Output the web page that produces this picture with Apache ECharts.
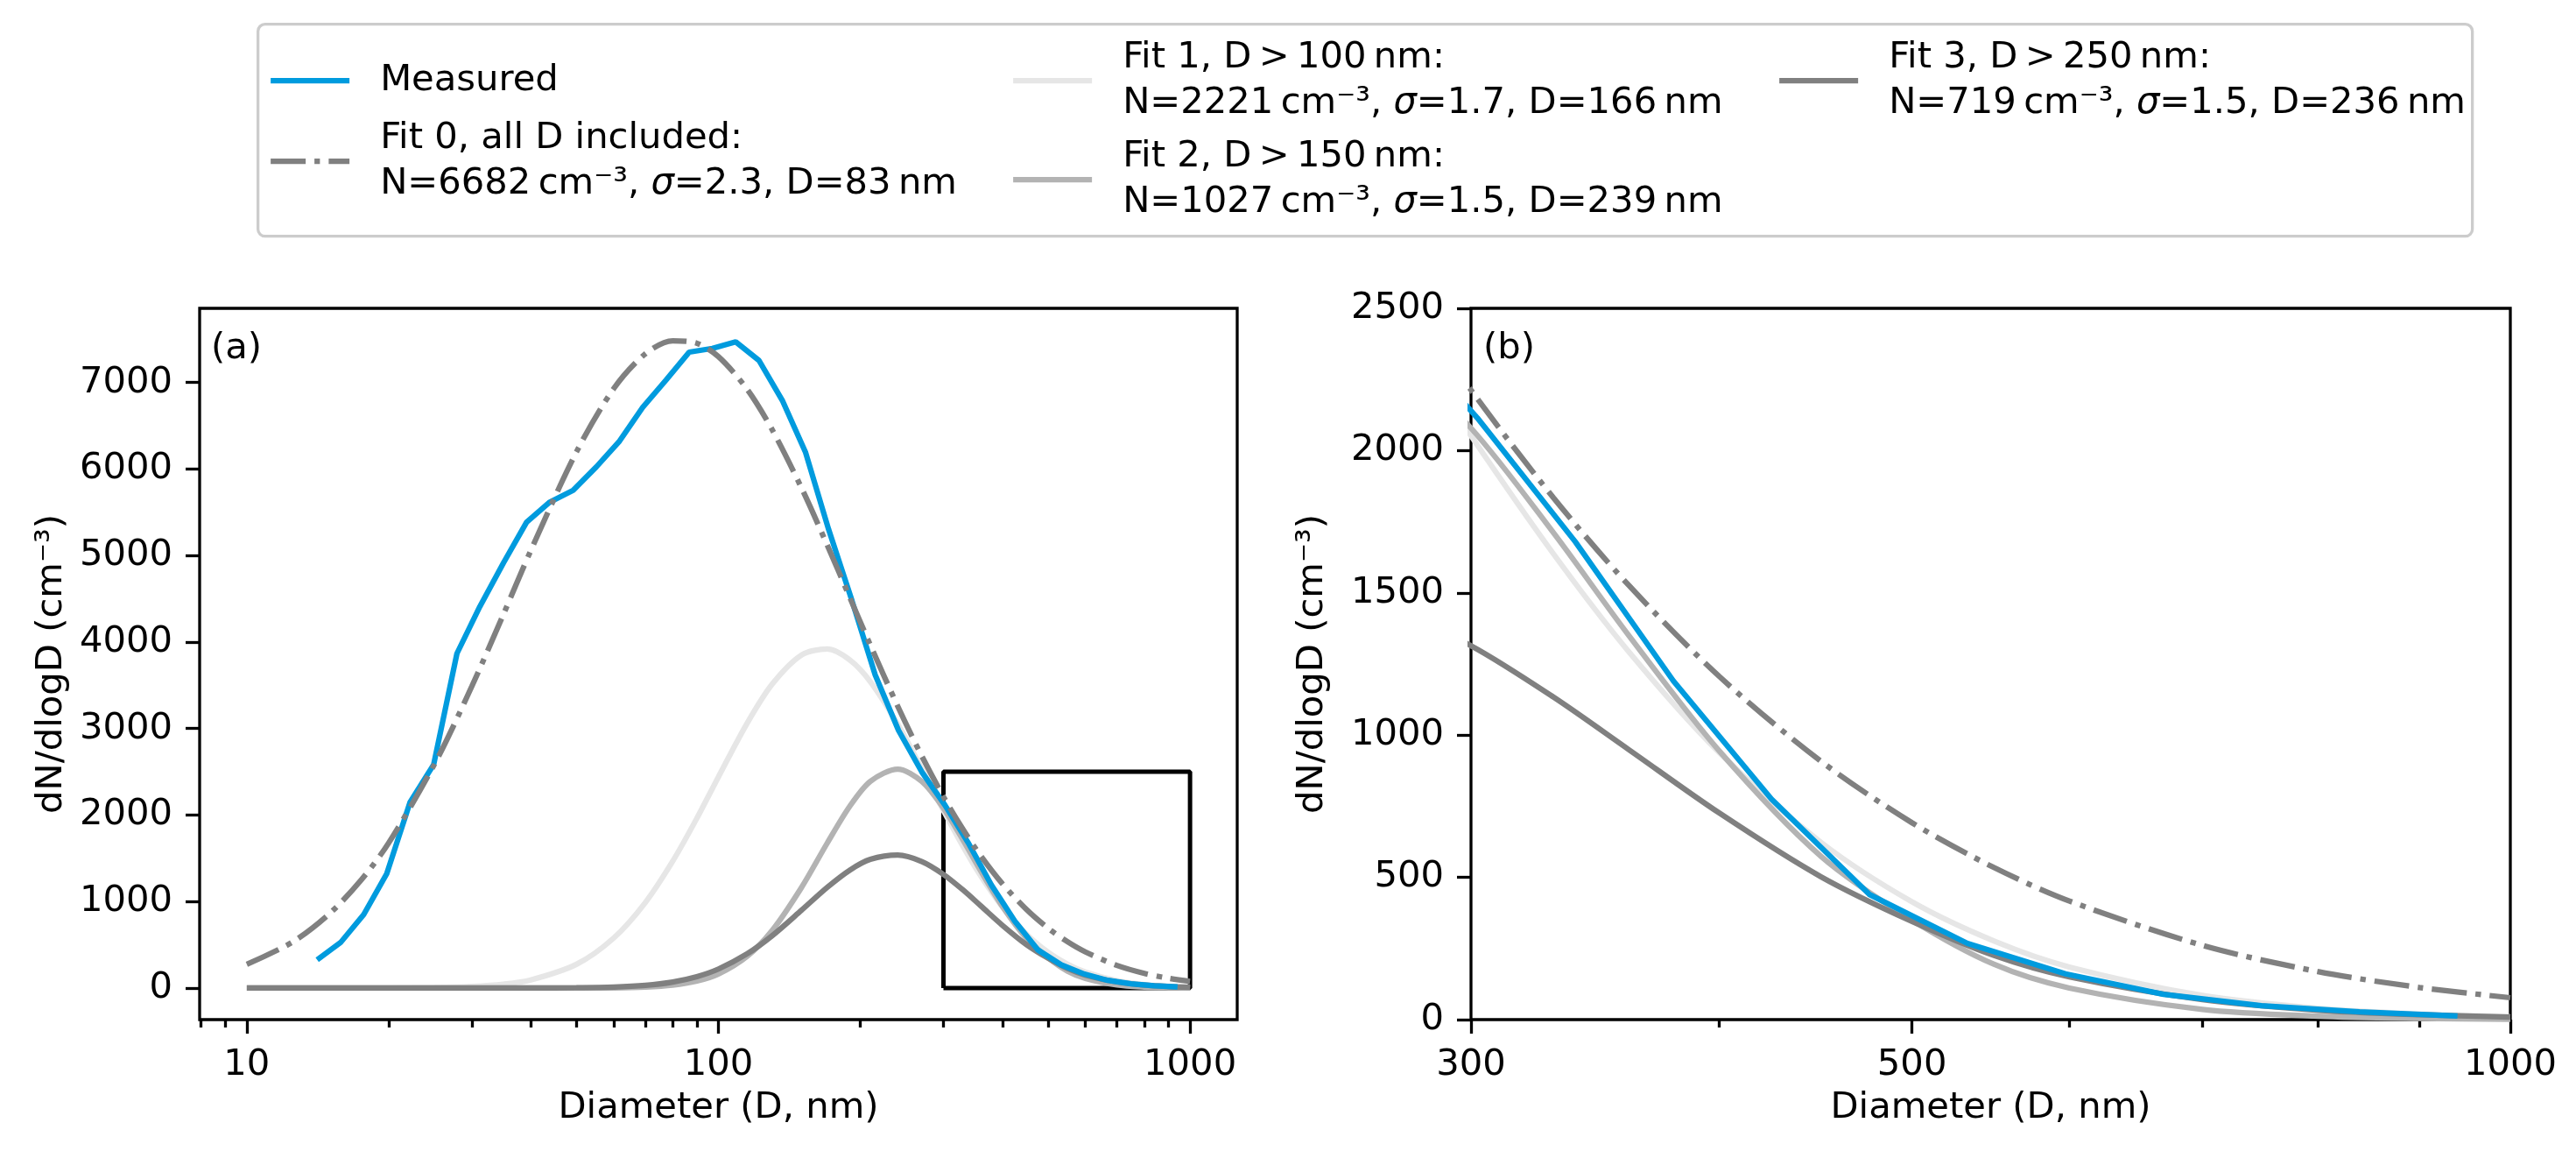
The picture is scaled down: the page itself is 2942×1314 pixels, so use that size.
<!DOCTYPE html>
<html>
<head>
<meta charset="utf-8">
<script src="https://cdn.jsdelivr.net/npm/echarts@6/dist/echarts.min.js"></script>
<style>
html, body { margin: 0; padding: 0; background: #fff; }
#main { width: 2942px; height: 1314px; }
</style>
</head>
<body>
<div id="main"></div>
<script>
// measured size distribution: diameter (nm) and dN/dlogD (cm-3)
var measD = [14.1, 15.8, 17.7, 19.8, 22.2, 24.9, 27.9, 31.2, 35.0, 39.2, 43.9, 49.2, 55.1, 61.7, 69.1, 77.4,
    86.7, 97.1, 108.8, 121.9, 136.6, 152.9, 171.3, 191.9, 215.0, 240.9, 269.8, 302.2, 338.5, 379.3, 424.9,
    475.9, 533.2, 597.3, 669.1, 749.5, 839.6, 940.6];
var measured = [325, 525, 851, 1322, 2151, 2584, 3868, 4410, 4914, 5386, 5618, 5754, 6025, 6323, 6713, 7027,
    7352, 7395, 7471, 7255, 6794, 6198, 5300, 4480, 3620, 2980, 2500, 2115, 1680, 1190, 775,
    440, 268, 161, 89, 49, 27, 13];

var fitD = [10, 12.5, 15, 17.5, 20, 25, 30, 35, 40, 50, 60, 70, 80, 90, 100, 115, 130, 150, 170, 190, 210,
    240, 270, 300, 330, 360, 400, 450, 500, 550, 600, 700, 800, 900, 1000];
var fit0 = [275, 532, 864, 1252, 1680, 2588, 3488, 4320, 5056, 6198, 6931, 7332, 7483, 7454, 7300, 6924, 6455,
    5783, 5124, 4513, 3964, 3258, 2680, 2213, 1835, 1528, 1206, 908, 692, 534, 417, 261, 169, 113, 77];
var fit1 = [0, 0, 0, 0, 1, 5, 18, 44, 93, 274, 579, 989, 1466, 1962, 2441, 3059, 3513, 3850, 3919, 3792, 3541,
    3051, 2532, 2052, 1638, 1295, 938, 623, 414, 276, 185, 85, 40, 20, 10];
var fit2 = [0, 0, 0, 0, 0, 0, 0, 0, 0, 0, 2, 11, 33, 80, 162, 366, 665, 1162, 1673, 2103, 2390,
    2530, 2387, 2079, 1712, 1352, 944, 574, 350, 194, 111, 36, 12, 4, 1];
var fit3 = [0, 0, 0, 0, 0, 0, 0, 0, 0, 3, 11, 31, 70, 132, 220, 395, 605, 899, 1163, 1364, 1488,
    1537, 1462, 1314, 1134, 950, 726, 502, 345, 225, 150, 70, 33, 17, 9];

// zoom box drawn in panel (a)
var boxD = [300, 1000, 1000, 300, 300];
var boxV = [0, 0, 2500, 2500, 0];

// ticks
var xMajorA = [10, 100, 1000];
var xMinorA = [8, 9, 20, 30, 40, 50, 60, 70, 80, 90, 200, 300, 400, 500, 600, 700, 800, 900];
var yTicksA = [0, 1000, 2000, 3000, 4000, 5000, 6000, 7000];
var xMajorB = [300, 500, 1000];
var xMinorB = [400, 600, 700, 800, 900];
var yTicksB = [0, 500, 1000, 1500, 2000, 2500];

var FONT = 'DejaVu Sans';
var FS = 41.7;
var LW = 6.25;
var blue = '#009bde';
var dashDot = [40, 10, 6.25, 10];

var legendText = {
    'Measured': 'Measured',
    'Fit 0': 'Fit 0, all D included:\nN=6682\u2009cm\u207b\u00b3, {i|\u03c3}=2.3, D=83\u2009nm',
    'Fit 1': 'Fit 1, D\u2009>\u2009100\u2009nm:\nN=2221\u2009cm\u207b\u00b3, {i|\u03c3}=1.7, D=166\u2009nm',
    'Fit 2': 'Fit 2, D\u2009>\u2009150\u2009nm:\nN=1027\u2009cm\u207b\u00b3, {i|\u03c3}=1.5, D=239\u2009nm',
    'Fit 3': 'Fit 3, D\u2009>\u2009250\u2009nm:\nN=719\u2009cm\u207b\u00b3, {i|\u03c3}=1.5, D=236\u2009nm'
};

function pairs(xs, ys) {
    return xs.map(function (x, i) { return [x, ys[i]]; });
}

function line(name, xs, ys, color, panel, opts) {
    opts = opts || {};
    return {
        name: name,
        type: 'line',
        xAxisIndex: panel === 0 ? 0 : 2,
        yAxisIndex: panel,
        data: pairs(xs, ys),
        symbol: 'none',
        smooth: opts.smooth ? 0.3 : false,
        z: opts.z || 2,
        silent: true,
        lineStyle: { color: color, width: opts.width || LW, type: opts.type || 'solid', cap: 'butt' },
        itemStyle: { color: color }
    };
}

function legendBox(name, left, top) {
    return {
        data: [name],
        left: left,
        top: top,
        orient: 'vertical',
        padding: 0,
        itemWidth: 90,
        itemHeight: 14,
        selectedMode: false,
        lineStyle: { width: LW },
        itemStyle: { opacity: 0 },
        formatter: function (n) { return legendText[n]; },
        textStyle: {
            fontFamily: FONT, fontSize: FS, lineHeight: 52, color: '#000', padding: [0, 0, 0, 30],
            rich: { i: { fontFamily: FONT, fontSize: FS, lineHeight: 52, fontStyle: 'italic', color: '#000' } }
        }
    };
}

function plain(v) {
    return String(Math.round(v));
}

var tickStyle = { color: '#000', width: 3.3 };
var labelStyle = { color: '#000', fontFamily: FONT, fontSize: FS, margin: 31, formatter: plain };
var nameStyle = { color: '#000', fontFamily: FONT, fontSize: FS };
var noLine = { show: false, onZero: false };

var series = [];
[0, 1].forEach(function (p) {
    if (p === 0) {
        series.push(line('box', boxD, boxV, '#000', 0, { width: 5, z: 1 }));
    }
    series.push(line('Fit 1', fitD, fit1, '#e6e6e6', p, { smooth: true }));
    series.push(line('Fit 2', fitD, fit2, '#b3b3b3', p, { smooth: true }));
    series.push(line('Fit 3', fitD, fit3, '#808080', p, { smooth: true }));
    series.push(line('Measured', measD, measured, blue, p, { z: 3 }));
    series.push(line('Fit 0', fitD, fit0, '#808080', p, { smooth: true, type: dashDot, z: 4 }));
});

var option = {
    backgroundColor: '#fff',
    animation: false,
    graphic: [
        {
            type: 'rect', left: 293, top: 26, z: 0,
            shape: { width: 2529, height: 242, r: 8 },
            style: { fill: '#fff', stroke: '#cccccc', lineWidth: 3.3 }
        },
        { type: 'text', left: 241, top: 377, z: 10, style: { text: '(a)', font: FS + 'px "DejaVu Sans"', fill: '#000' } },
        { type: 'text', left: 1694, top: 377, z: 10, style: { text: '(b)', font: FS + 'px "DejaVu Sans"', fill: '#000' } }
    ],
    legend: [
        legendBox('Measured', 306, 66),
        legendBox('Fit 0', 306, 132),
        legendBox('Fit 1', 1154, 40),
        legendBox('Fit 2', 1154, 153),
        legendBox('Fit 3', 2029, 40)
    ],
    grid: [
        { left: 228, top: 352, width: 1185, height: 812, show: true, borderColor: '#000', borderWidth: 3.3, backgroundColor: 'transparent' },
        { left: 1680, top: 352, width: 1187, height: 812, show: true, borderColor: '#000', borderWidth: 3.3, backgroundColor: 'transparent' }
    ],
    xAxis: [
        {
            type: 'log', logBase: 10, gridIndex: 0, min: 7.943, max: 1259, position: 'bottom',
            name: 'Diameter (D, nm)', nameLocation: 'middle', nameGap: 80, nameTextStyle: nameStyle,
            axisLine: noLine,
            axisTick: { show: true, length: 16, lineStyle: tickStyle, customValues: xMajorA },
            axisLabel: Object.assign({ customValues: xMajorA }, labelStyle),
            splitLine: { show: false }, minorTick: { show: false }
        },
        {
            type: 'log', logBase: 10, gridIndex: 0, min: 7.943, max: 1259, position: 'bottom',
            axisLine: noLine,
            axisTick: { show: true, length: 9, lineStyle: tickStyle, customValues: xMinorA },
            axisLabel: { show: false },
            splitLine: { show: false }
        },
        {
            type: 'log', logBase: 10, gridIndex: 1, min: 300, max: 1000, position: 'bottom',
            name: 'Diameter (D, nm)', nameLocation: 'middle', nameGap: 80, nameTextStyle: nameStyle,
            axisLine: noLine,
            axisTick: { show: true, length: 16, lineStyle: tickStyle, customValues: xMajorB },
            axisLabel: Object.assign({ customValues: xMajorB }, labelStyle),
            splitLine: { show: false }
        },
        {
            type: 'log', logBase: 10, gridIndex: 1, min: 300, max: 1000, position: 'bottom',
            axisLine: noLine,
            axisTick: { show: true, length: 9, lineStyle: tickStyle, customValues: xMinorB },
            axisLabel: { show: false },
            splitLine: { show: false }
        }
    ],
    yAxis: [
        {
            type: 'value', gridIndex: 0, min: -365, max: 7858,
            name: 'dN/dlogD (cm\u207b\u00b3)', nameLocation: 'middle', nameGap: 148, nameTextStyle: nameStyle,
            axisLine: noLine,
            axisTick: { show: true, length: 16, lineStyle: tickStyle, customValues: yTicksA },
            axisLabel: Object.assign({ customValues: yTicksA }, labelStyle),
            splitLine: { show: false }
        },
        {
            type: 'value', gridIndex: 1, min: 0, max: 2500,
            name: 'dN/dlogD (cm\u207b\u00b3)', nameLocation: 'middle', nameGap: 160, nameTextStyle: nameStyle,
            axisLine: noLine,
            axisTick: { show: true, length: 16, lineStyle: tickStyle, customValues: yTicksB },
            axisLabel: Object.assign({ customValues: yTicksB }, labelStyle),
            splitLine: { show: false }
        }
    ],
    series: series
};

var myChart = echarts.init(document.getElementById('main'));
myChart.setOption(option);
</script>
</body>
</html>
